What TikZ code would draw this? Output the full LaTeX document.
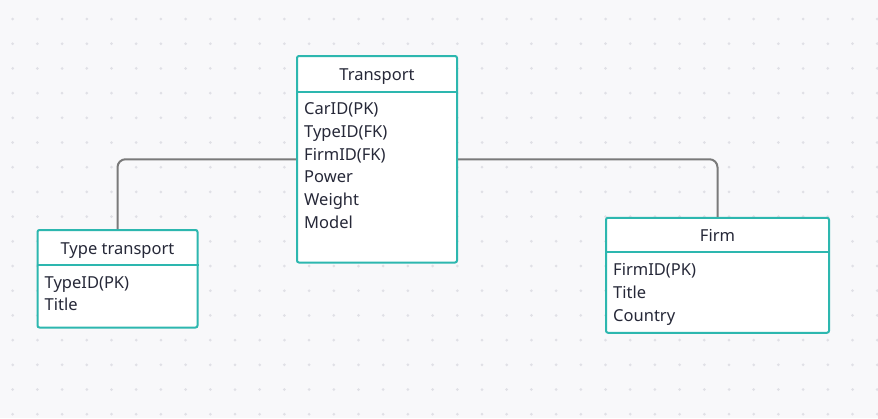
\documentclass[tikz,border=0pt]{standalone}
\usepackage{fontspec}
\setmainfont{Noto Sans}
\definecolor{bg}{HTML}{F8F8FA}
\definecolor{dotc}{HTML}{E0E0E6}
\definecolor{teal}{HTML}{2DB7AF}
\definecolor{txt}{HTML}{262838}
\definecolor{conn}{HTML}{7A7A7A}
\tikzset{
  tbl/.style={draw=teal, line width=2pt, fill=white, rounded corners=2pt, inner sep=0pt},
  divider/.style={draw=teal, line width=2pt},
  hdr/.style={text=txt, font=\fontsize{16.5}{19}\selectfont, inner sep=0pt, text height=11.8pt, text depth=0pt},
  fld/.style={text=txt, font=\fontsize{16.5}{19}\selectfont, inner sep=0pt, anchor=west, text height=11.8pt, text depth=0pt},
  link/.style={draw=conn, line width=2pt, rounded corners=8pt},
}
\begin{document}
\begin{tikzpicture}[x=1pt,y=-1pt]
\fill[bg] (0,0) rectangle (878,418);
\useasboundingbox (0,0) rectangle (878,418);
\foreach \i in {0,...,35} {
  \foreach \j in {0,...,16} {
    \fill[dotc] ({12.7+24.7*\i},{19+24.7*\j}) circle (1.5);
  }
}
% tables
\node[tbl, minimum width=160, minimum height=206.5] (transport) at (377,159.25) {};
\node[tbl, minimum width=160, minimum height=97.5] (typet) at (117.5,278.75) {};
\node[tbl, minimum width=223, minimum height=115] (firm) at (717.5,275.25) {};
% connectors
\draw[link] (transport.west) -| (typet.north);
\draw[link] (transport.east) -| (firm.north);
% dividers
\draw[divider] (transport.west |- 0,91.7) -- (transport.east |- 0,91.7);
\draw[divider] (typet.west |- 0,265) -- (typet.east |- 0,265);
\draw[divider] (firm.west |- 0,252.3) -- (firm.east |- 0,252.3);
% headers
\node[hdr] (th) at (377,75) {Transport};
\node[hdr] (yh) at (117.5,248.3) {Type transport};
\node[hdr] (fh) at (717.5,236) {Firm};
% fields
\node[fld] (t1) at (304,109) {CarID(PK)};
\node[fld] (t2) at (304,131.7) {TypeID(FK)};
\node[fld] (t3) at (304,154.3) {FirmID(FK)};
\node[fld] (t4) at (304,177) {Power};
\node[fld] (t5) at (304,199.5) {Weight};
\node[fld] (t6) at (304,222.3) {Model};
\node[fld] (y1) at (44.5,282.5) {TypeID(PK)};
\node[fld] (y2) at (44.5,305) {Title};
\node[fld] (f1) at (613,270) {FirmID(PK)};
\node[fld] (f2) at (613,292.7) {Title};
\node[fld] (f3) at (613,315.2) {Country};
\end{tikzpicture}
\end{document}
